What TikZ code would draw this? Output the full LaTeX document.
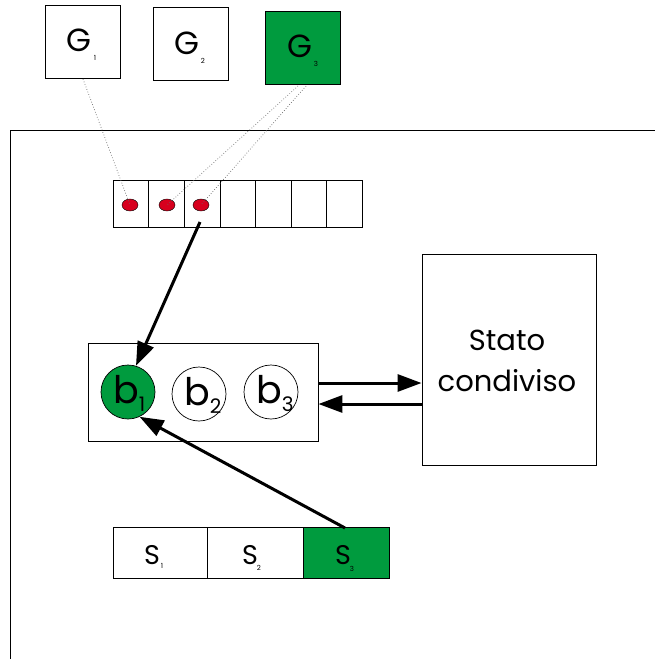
\documentclass[tikz,border=0pt]{standalone}
\usepackage{fontspec}
\setmainfont{Poppins}
\usetikzlibrary{arrows.meta,shapes.geometric}
\definecolor{grn}{RGB}{0,155,62}
\definecolor{rdot}{RGB}{215,0,30}
\newcommand{\bsubtxt}[1]{\raisebox{-8pt}{\fontsize{20}{20}\selectfont #1}}
\begin{document}
\begin{tikzpicture}[x=1pt,y=-1pt,
  box/.style={draw=black,line width=0.9pt},
  gbox/.style={box,minimum width=75pt,minimum height=73pt,inner sep=0pt},
  cell/.style={draw=black,line width=0.8pt,minimum width=35.6pt,minimum height=47pt,inner sep=0pt},
  scell/.style={draw=black,line width=0.8pt,minimum height=51pt,inner sep=0pt},
  bcirc/.style={circle,draw=black,line width=0.7pt,minimum size=54pt,inner sep=0pt},
  reddot/.style={ellipse,fill=rdot,draw=black,line width=0.4pt,minimum width=16pt,minimum height=12pt,inner sep=0pt},
  dots/.style={draw=gray!80!black,dotted,line width=0.7pt},
  bigarrow/.style={line width=3pt,-{Triangle[length=24pt,width=17pt]}},
  glab/.style={inner sep=0pt,font=\fontsize{32}{32}\selectfont},
  slab/.style={inner sep=0pt,font=\fontsize{27}{27}\selectfont},
  blab/.style={inner sep=0pt,font=\fontsize{38}{38}\selectfont},
  sub/.style={inner sep=0pt,font=\fontsize{7}{7}\selectfont}
]
\useasboundingbox (0,0) rectangle (655,659);
% frame
\draw[line width=0.9pt] (10,659) -- (10,130) -- (655,130);
% G boxes
\node[gbox] (g1) at (82.5,41.5) {};
\node[gbox] (g2) at (190.5,44) {};
\node[gbox,fill=grn] (g3) at (302.5,47.5) {};
\foreach \n/\x/\y/\s in {g1/79/40/1,g2/187/43/2,g3/300/46/3}{
  \node[glab] at (\x,\y) {G};
  \node[sub] at (\x+16,\y+18) {\s};
}
% array
\foreach \i in {0,...,6}{
  \node[cell] (c\i) at (131+\i*35.6,203.5) {};
}
\node[reddot] (d1) at (130,205) {};
\node[reddot] (d2) at (167,205) {};
\node[reddot] (d3) at (201,205) {};
\coordinate (g1b) at (83,79);
\coordinate (g3a) at (298,86);
\coordinate (g3b) at (306,86);
\draw[dots] (g1b) -- (d1.center);
\draw[dots] (g3a) -- (d2.center);
\draw[dots] (g3b) -- (d3.center);
% b box
\node[box,minimum width=230pt,minimum height=98pt,inner sep=0pt] (bbox) at (203,392) {};
\node[bcirc,fill=grn] (b1) at (128,392) {};
\node[bcirc] (b2) at (199,394) {};
\node[bcirc] (b3) at (271,392) {};
\foreach \n in {1,2,3}{
  \node[blab,anchor=base west] at ([xshift=-15pt,yshift=-11pt]b\n.center) {b\bsubtxt{\n}};
}
% Stato condiviso
\node[box,minimum width=174pt,minimum height=211pt,inner sep=0pt] (stato) at (509,359.5) {};
\node[font=\fontsize{29}{41}\selectfont,align=center] at (507,361) {Stato\\condiviso};
% s array
\node[scell,minimum width=94pt] (s1) at (160,552.5) {};
\node[scell,minimum width=96pt] (s2) at (255,552.5) {};
\node[scell,minimum width=86pt,fill=grn] (s3) at (346,552.5) {};
\node[slab] at ([xshift=-8pt,yshift=-3pt]s1.center) {S};
\node[sub] at ([xshift=2pt,yshift=-13pt]s1.center) {1};
\node[slab] at ([xshift=-5pt,yshift=-3pt]s2.center) {S};
\node[sub] at ([xshift=4pt,yshift=-15pt]s2.center) {2};
\node[slab] at ([xshift=-3pt,yshift=-3pt]s3.center) {S};
\node[sub] at ([xshift=6pt,yshift=-16pt]s3.center) {3};
% arrows
\coordinate (a1s) at (200,222);
\draw[bigarrow] (a1s) -- (b1.73);
\coordinate (a2s) at (345,528);
\draw[bigarrow] (a2s) -- (b1.-65);
\draw[bigarrow] (bbox.east |- 0,383) -- (stato.west |- 0,383);
\draw[bigarrow] (stato.west |- 0,404) -- (bbox.east |- 0,404);
\end{tikzpicture}
\end{document}
